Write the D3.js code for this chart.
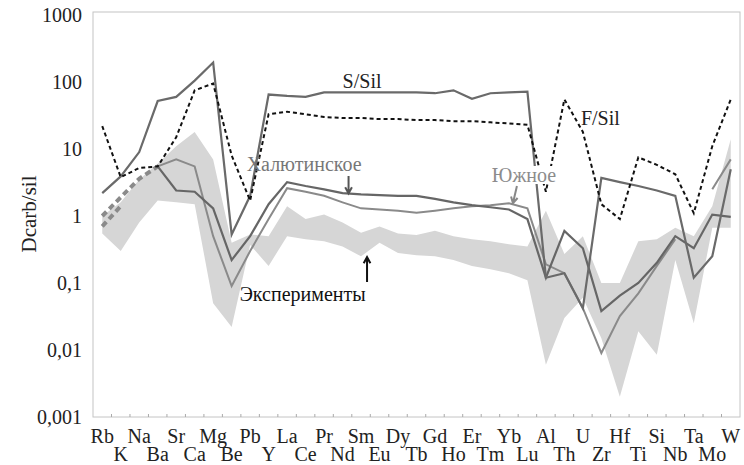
<!DOCTYPE html>
<html>
<head>
<meta charset="utf-8">
<title>Dcarb/sil</title>
<style>
body { margin: 0; background: #fff; }
svg text { font-family: "Liberation Serif", "DejaVu Serif", serif; }
</style>
</head>
<body>
<svg width="744" height="465"></svg>
<script src="https://cdn.jsdelivr.net/npm/d3@7/dist/d3.min.js"></script>
<script>

// categories along the x axis (two label rows alternate)
var cats = ["Rb","K","Na","Ba","Sr","Ca","Mg","Be","Pb","Y","La","Ce","Pr","Nd","Sm","Eu","Dy","Tb","Gd","Ho","Er","Tm","Yb","Lu","Al","Th","U","Zr","Hf","Ti","Si","Nb","Ta","Mo","W"];

var sSil = [2.2, 3.9, 9, 52, 60, 105, 195, 0.53, 2.0, 65, 62, 60, 70, 70, 70, 70, 70, 70, 68, 75, 56, 68, 70, 72, 0.12, 0.14, 0.042, 3.7, 3.2, 2.8, 2.4, 2.0, 0.12, 0.25, 5];
var fSil = [22, 3.8, 5.2, 5.5, 15, 75, 95, 8, 1.7, 33, 36, 33, 30, 29, 29, 28, 28, 27, 27, 26, 26, 25, 24, 23, 2.3, 55, 18, 1.5, 0.9, 7.5, 5.8, 4.2, 1.1, 11, 55];
var khal = [null, null, null, 5.5, 2.4, 2.3, 1.3, 0.22, 0.5, 1.5, 3.2, 2.8, 2.5, 2.2, 2.1, 2.05, 2.0, 2.0, 1.8, 1.6, 1.45, 1.35, 1.25, 0.9, 0.12, 0.6, 0.33, 0.038, 0.065, 0.1, 0.2, 0.5, 0.33, 1.05, 0.97];
var yuzh = [null, null, null, 5.5, 7, 5.5, 0.5, 0.09, 0.3, 0.9, 2.6, 2.3, 2.0, 1.6, 1.3, 1.25, 1.2, 1.12, 1.2, 1.3, 1.4, 1.45, 1.55, 1.3, 0.19, 0.14, 0.042, 0.009, 0.032, 0.07, 0.18, 0.45, null, 2.5, 7];
var dashA = [1.0, 1.9, 3.6, 5.5];
var dashB = [0.7, 1.4];

// experimental field (Эксперименты): lower / upper bounds
var expLow = [0.55, 0.3, 0.8, 1.7, 1.6, 1.5, 0.05, 0.022, 0.37, 0.18, 0.5, 0.45, 0.42, 0.35, 0.25, 0.4, 0.28, 0.26, 0.25, 0.22, 0.18, 0.16, 0.14, 0.11, 0.006, 0.03, 0.06, 0.015, 0.002, 0.019, 0.0085, 0.22, 0.025, 0.67, 0.67];
var expHigh = [1.0, 1.6, 3.5, 6, 11, 18, 7, 0.4, 0.53, 0.5, 1.4, 0.9, 1.05, 0.8, 0.56, 0.7, 0.55, 0.52, 0.6, 0.5, 0.45, 0.42, 0.38, 0.35, 1.2, 0.27, 0.5, 0.1, 0.1, 0.42, 0.45, 0.67, 0.5, 1.4, 14];

var yTicks = [0.001, 0.01, 0.1, 1, 10, 100, 1000];
var yTickLabels = ["0,001", "0,01", "0,1", "1", "10", "100", "1000"];

var FONT = "Liberation Serif, DejaVu Serif, serif";
var FS = 20;

var svg = d3.select("svg");
var plotLeft = 93, plotRight = 740, plotTop = 12, plotBottom = 417;

var x = d3.scalePoint().domain(cats).range([plotLeft, plotRight]).padding(0.5);
var y = d3.scaleLog().domain([0.001, 1000]).range([plotBottom, 15]);
var step = x.step();

// plot frame
svg.append("rect")
    .attr("x", plotLeft).attr("y", plotTop)
    .attr("width", plotRight - plotLeft).attr("height", plotBottom - plotTop)
    .attr("fill", "none").attr("stroke", "#c4c4c4").attr("stroke-width", 1);

// small ticks on the x axis, between categories
svg.append("g").selectAll("line")
    .data(d3.range(1, cats.length))
  .enter().append("line")
    .attr("x1", function(i) { return plotLeft + i * step; })
    .attr("x2", function(i) { return plotLeft + i * step; })
    .attr("y1", plotBottom).attr("y2", plotBottom - 3)
    .attr("stroke", "#aaa");

// y tick labels
svg.append("g").selectAll("text")
    .data(yTicks)
  .enter().append("text")
    .attr("x", 82)
    .attr("y", function(d) { return y(d); })
    .attr("dy", "0.35em")
    .attr("text-anchor", "end")
    .attr("font-family", FONT)
    .attr("font-size", FS)
    .attr("fill", "#222")
    .text(function(d, i) { return yTickLabels[i]; });

// x labels, two rows
svg.append("g").selectAll("text")
    .data(cats)
  .enter().append("text")
    .attr("x", function(d) { return x(d); })
    .attr("y", function(d, i) { return i % 2 === 0 ? 443 : 461; })
    .attr("text-anchor", "middle")
    .attr("font-family", FONT)
    .attr("font-size", FS)
    .attr("fill", "#222")
    .text(function(d) { return d; });

// axis title
svg.append("text")
    .attr("transform", "translate(36,214) rotate(-90)")
    .attr("text-anchor", "middle")
    .attr("font-family", FONT)
    .attr("font-size", 21)
    .attr("fill", "#222")
    .text("Dcarb/sil");

// experiments band
var area = d3.area()
    .x(function(d, i) { return x(cats[i]); })
    .y0(function(d, i) { return y(expLow[i]); })
    .y1(function(d, i) { return y(expHigh[i]); });

svg.append("path")
    .datum(expLow)
    .attr("d", area)
    .attr("fill", "#d6d6d6");

var line = d3.line()
    .defined(function(d) { return d != null; })
    .x(function(d, i) { return x(cats[i]); })
    .y(function(d) { return y(d); });

function drawLine(values, color, width, dash) {
  svg.append("path")
      .datum(values)
      .attr("d", line)
      .attr("fill", "none")
      .attr("stroke", color)
      .attr("stroke-width", width)
      .attr("stroke-dasharray", dash || null);
}

drawLine(dashA, "#8a8a8a", 4, "6,4");
drawLine(dashB, "#8a8a8a", 4, "6,4");
drawLine(yuzh, "#8a8a8a", 2);
drawLine(khal, "#666", 2.2);
drawLine(sSil, "#6a6a6a", 2.2);
drawLine(fSil, "#111", 2, "4,3");

// annotations
function label(txt, xx, yy, color, anchor) {
  return svg.append("text")
      .attr("x", xx).attr("y", yy)
      .attr("text-anchor", anchor || "middle")
      .attr("font-family", FONT)
      .attr("font-size", FS)
      .attr("fill", color)
      .text(txt);
}

label("S/Sil", x("Sm") + 1, y(100) + 6, "#222");
label("F/Sil", x("Zr") - 1, y(10) - 24, "#222");
label("Халютинское", x("Be") + 15, y(10) + 22, "#777", "start");

var yz = label("Южное", x("Yb") + 15, y(1) - 34, "#8c8c8c");
var bb = yz.node().getBBox();
svg.append("rect")
    .attr("x", bb.x - 1).attr("y", bb.y + 2)
    .attr("width", bb.width + 2).attr("height", bb.height - 4)
    .attr("fill", "#fff");
yz.raise();

label("Эксперименты", x("Be") + 8, y(0.1) + 18, "#111", "start");

function arrow(x1, y1, x2, y2, color) {
  var a = Math.atan2(y2 - y1, x2 - x1), h = 7;
  svg.append("path")
      .attr("d", "M" + x1 + "," + y1 + "L" + x2 + "," + y2 +
                 "M" + (x2 - h * Math.cos(a - 0.5)) + "," + (y2 - h * Math.sin(a - 0.5)) +
                 "L" + x2 + "," + y2 +
                 "L" + (x2 - h * Math.cos(a + 0.5)) + "," + (y2 - h * Math.sin(a + 0.5)))
      .attr("fill", "none")
      .attr("stroke", color)
      .attr("stroke-width", 2);
}

arrow(x("Nd") + 6, y(10) + 27, x("Nd") + 6, y(2.1) - 1, "#555");
arrow(x("Yb") + 8, y(1) - 30, x("Yb") + 4, y(1.5) - 1, "#888");
arrow(x("Sm") + 6, y(0.1) - 1, x("Sm") + 6, y(0.26) + 2, "#111");

</script>
</body>
</html>
